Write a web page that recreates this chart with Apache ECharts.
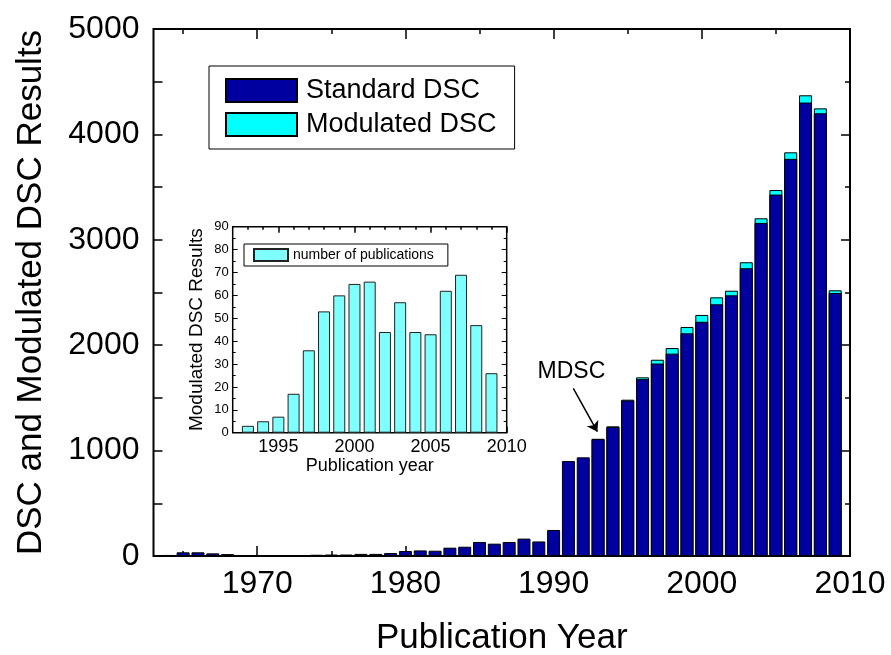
<!DOCTYPE html>
<html>
<head>
<meta charset="utf-8">
<script src="https://cdn.jsdelivr.net/npm/echarts@6/dist/echarts.min.js"></script>
<style>
  html, body { margin: 0; padding: 0; background: #fff; }
  #chart { width: 891px; height: 655px; }
</style>
</head>
<body>
<div id="chart"></div>
<script>
// Yearly counts of DSC publications (all years 1964–2009)
const years = [1964, 1965, 1966, 1967, 1968, 1969, 1970, 1971, 1972, 1973,
  1974, 1975, 1976, 1977, 1978, 1979, 1980, 1981, 1982, 1983,
  1984, 1985, 1986, 1987, 1988, 1989, 1990, 1991, 1992, 1993,
  1994, 1995, 1996, 1997, 1998, 1999, 2000, 2001, 2002, 2003,
  2004, 2005, 2006, 2007, 2008, 2009];
const standardDSC = [10, 35, 35, 25, 18, 5, 4, 5, 5, 8,
  12, 14, 14, 20, 20, 28, 47, 53, 50, 79,
  88, 133, 117, 133, 165, 138, 247, 901, 936, 1109,
  1225, 1476, 1678, 1826, 1920, 2113, 2222, 2388, 2473, 2730,
  3160, 3429, 3768, 4302, 4200, 2495];

// Modulated DSC publications (1993–2009)
const mdscYears = [1993, 1994, 1995, 1996, 1997, 1998, 1999, 2000, 2001,
  2002, 2003, 2004, 2005, 2006, 2007, 2008, 2009];
const mdscPublications = [3, 5, 7, 17, 36, 53, 60, 65, 66, 44, 57, 44, 43, 62, 69, 47, 26];

// Tick positions
const mainXMajor = [1970, 1980, 1990, 2000, 2010];
const mainXMinor = [1965, 1975, 1985, 1995, 2005];
const insetXMajor = [1995, 2000, 2005, 2010];
const insetXMinor = [1993, 1994, 1996, 1997, 1998, 1999, 2001, 2002, 2003, 2004,
  2006, 2007, 2008, 2009];

// "MDSC" annotation: label position and arrow start/end in data units
const mdscLabelAt = [1991.2, 1746];
const mdscArrowFrom = [1991.33, 1591];
const mdscArrowTo = [1992.95, 1179];

const FONT = '"Liberation Sans", Arial, Helvetica, sans-serif';
const plain = v => String(v);

// Standard + modulated per year: the cyan bar sits behind the navy one,
// so only its top part (the modulated share) stays visible
const totalByYear = years.map((y, i) => {
  const k = mdscYears.indexOf(y);
  return k >= 0 ? standardDSC[i] + mdscPublications[k] : null;
});

function tickAxis(grid, pos, min, max, values, len, extra) {
  return Object.assign({
    gridIndex: grid, type: 'value', position: pos, min: min, max: max,
    axisLine: { show: false },
    splitLine: { show: false },
    axisTick: { show: true, inside: true, length: len, customValues: values,
      lineStyle: { color: '#000', width: 1.5 } },
    axisLabel: { show: false }
  }, extra || {});
}

const chart = echarts.init(document.getElementById('chart'), null, { renderer: 'canvas' });

const option = {
  animation: false,
  backgroundColor: '#fff',
  textStyle: { fontFamily: FONT, color: '#000' },
  grid: [
    { left: 153.5, top: 29, width: 696.5, height: 527, show: true,
      borderColor: '#000', borderWidth: 2, backgroundColor: 'transparent',
      containLabel: false, outerBoundsMode: 'none' },
    { left: 232.7, top: 226.7, width: 274, height: 206, show: true,
      borderColor: '#000', borderWidth: 1.5, backgroundColor: '#fff',
      containLabel: false, outerBoundsMode: 'none' }
  ],
  legend: [
    {
      data: ['Standard DSC', 'Modulated DSC'],
      left: 209, top: 66, orient: 'vertical',
      icon: 'rect', itemWidth: 71, itemHeight: 23, itemGap: 7,
      padding: [11, 18, 11, 16],
      borderColor: '#000', borderWidth: 1,
      textStyle: { fontSize: 27, color: '#000', fontFamily: FONT, lineHeight: 23,
        height: 23, padding: [0, 0, 0, 4] },
      selectedMode: false
    },
    {
      data: ['number of publications'],
      left: 244, top: 244, orient: 'vertical',
      icon: 'rect', itemWidth: 34, itemHeight: 12,
      padding: [4, 14, 4, 9],
      borderColor: '#000', borderWidth: 1,
      textStyle: { fontSize: 14, color: '#000', fontFamily: FONT },
      selectedMode: false
    }
  ],
  xAxis: [
    tickAxis(0, 'bottom', 1963, 2010, mainXMajor, 10, {
      axisLabel: { show: true, customValues: mainXMajor, formatter: plain, fontSize: 32,
        color: '#000', fontFamily: FONT, margin: 12 },
      name: 'Publication Year', nameLocation: 'middle', nameGap: 65,
      nameTextStyle: { fontSize: 35, color: '#000', fontFamily: FONT }
    }),
    tickAxis(0, 'bottom', 1963, 2010, mainXMinor, 5),
    tickAxis(0, 'top', 1963, 2010, mainXMajor, 10),
    tickAxis(0, 'top', 1963, 2010, mainXMinor, 5),
    tickAxis(1, 'bottom', 1992, 2010, insetXMajor, 6, {
      axisLabel: { show: true, customValues: insetXMajor, formatter: plain, fontSize: 18,
        color: '#000', fontFamily: FONT, margin: 5 },
      name: 'Publication year', nameLocation: 'middle', nameGap: 22,
      nameTextStyle: { fontSize: 18, color: '#000', fontFamily: FONT }
    }),
    tickAxis(1, 'bottom', 1992, 2010, insetXMinor, 3),
    tickAxis(1, 'top', 1992, 2010, insetXMajor, 6),
    tickAxis(1, 'top', 1992, 2010, insetXMinor, 3)
  ],
  yAxis: [
    {
      gridIndex: 0, type: 'value', position: 'left', min: 0, max: 5000, interval: 1000,
      axisLine: { show: false }, splitLine: { show: false },
      axisTick: { show: true, inside: true, length: 9, lineStyle: { color: '#000', width: 1.5 } },
      minorTick: { show: true, splitNumber: 2, length: 9, lineStyle: { color: '#000', width: 1.5 } },
      axisLabel: { formatter: plain, fontSize: 32, color: '#000', fontFamily: FONT, margin: 14 },
      name: 'DSC and Modulated DSC Results', nameLocation: 'middle', nameGap: 105,
      nameTextStyle: { fontSize: 35, color: '#000', fontFamily: FONT }
    },
    {
      gridIndex: 0, type: 'value', position: 'right', min: 0, max: 5000, interval: 1000,
      axisLine: { show: false }, splitLine: { show: false },
      axisTick: { show: true, inside: true, length: 9, lineStyle: { color: '#000', width: 1.5 } },
      minorTick: { show: true, splitNumber: 2, length: 5, lineStyle: { color: '#000', width: 1.5 } },
      axisLabel: { show: false }
    },
    {
      gridIndex: 1, type: 'value', position: 'left', min: 0, max: 90, interval: 10,
      axisLine: { show: false }, splitLine: { show: false },
      axisTick: { show: true, inside: true, length: 5, lineStyle: { color: '#000', width: 1 } },
      minorTick: { show: true, splitNumber: 2, length: 3, lineStyle: { color: '#000', width: 1 } },
      axisLabel: { formatter: plain, fontSize: 13, color: '#000', fontFamily: FONT, margin: 4 },
      name: 'Modulated DSC Results', nameLocation: 'middle', nameGap: 26,
      nameTextStyle: { fontSize: 19, color: '#000', fontFamily: FONT }
    },
    {
      gridIndex: 1, type: 'value', position: 'right', min: 0, max: 90, interval: 10,
      axisLine: { show: false }, splitLine: { show: false },
      axisTick: { show: true, inside: true, length: 5, lineStyle: { color: '#000', width: 1 } },
      minorTick: { show: true, splitNumber: 2, length: 3, lineStyle: { color: '#000', width: 1 } },
      axisLabel: { show: false }
    }
  ],
  series: [
    {
      // standard + modulated, behind the navy bars
      name: 'Modulated DSC', type: 'bar', xAxisIndex: 0, yAxisIndex: 0,
      barWidth: 13, barGap: '-100%', z: 2,
      data: years.map((y, i) => [y, totalByYear[i]]),
      itemStyle: { color: '#00ffff', borderColor: '#000', borderWidth: 1 }
    },
    {
      name: 'Standard DSC', type: 'bar', xAxisIndex: 0, yAxisIndex: 0,
      barWidth: 13, barGap: '-100%', z: 3,
      data: years.map((y, i) => [y, standardDSC[i]]),
      itemStyle: { color: '#0000a0', borderColor: '#000', borderWidth: 1 },
      markLine: {
        silent: true, animation: false,
        symbol: ['none', 'arrow'], symbolSize: 10,
        lineStyle: { color: '#000', width: 1.5, type: 'solid' },
        label: { show: false },
        data: [[{ coord: mdscArrowFrom }, { coord: mdscArrowTo }]]
      },
      markPoint: {
        silent: true, animation: false,
        symbol: 'circle', symbolSize: 1,
        itemStyle: { color: 'rgba(0,0,0,0)' },
        label: { show: true, position: 'inside', formatter: 'MDSC',
          fontSize: 23, color: '#000', fontFamily: FONT },
        data: [{ coord: mdscLabelAt }]
      }
    },
    {
      name: 'number of publications', type: 'bar', xAxisIndex: 4, yAxisIndex: 2,
      barWidth: 12,
      data: mdscYears.map((y, i) => [y, mdscPublications[i]]),
      itemStyle: { color: '#80ffff', borderColor: '#222', borderWidth: 1 }
    }
  ]
};

chart.setOption(option);
</script>
</body>
</html>
